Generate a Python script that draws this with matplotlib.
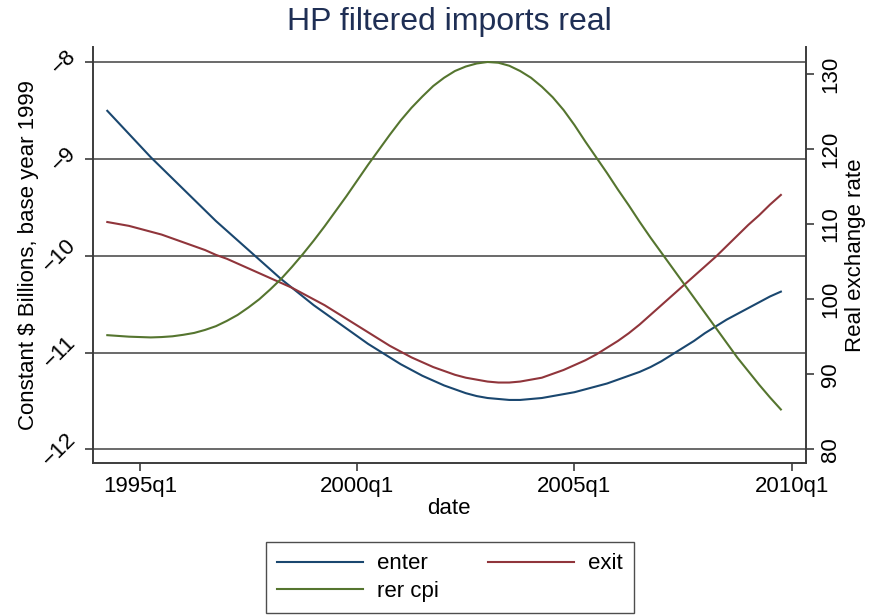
"""HP filtered imports real: enter/exit (left axis) against the real exchange rate (right axis)."""

import matplotlib

matplotlib.use("Agg")
import matplotlib.pyplot as plt  # noqa: E402
import numpy as np  # noqa: E402
import pandas as pd  # noqa: E402

plt.rcParams["font.family"] = ["Liberation Sans", "DejaVu Sans"]

# quarterly dates, 1994q2 .. 2009q4
dates = pd.period_range("1994Q2", "2009Q4", freq="Q")

enter = [
    -8.50, -8.62, -8.74, -8.86, -8.98, -9.09, -9.20, -9.31, -9.42, -9.53,
    -9.64, -9.74, -9.84, -9.94, -10.04, -10.14, -10.24, -10.33, -10.42, -10.51,
    -10.59, -10.67, -10.75, -10.83, -10.91, -10.98, -11.05, -11.12, -11.18, -11.24,
    -11.29, -11.34, -11.38, -11.42, -11.45, -11.47, -11.48, -11.49, -11.49, -11.48,
    -11.47, -11.45, -11.43, -11.41, -11.38, -11.35, -11.32, -11.28, -11.24, -11.20,
    -11.15, -11.09, -11.02, -10.95, -10.88, -10.80, -10.73, -10.66, -10.60, -10.54,
    -10.48, -10.42, -10.37,
]
exit_ = [
    -9.65, -9.67, -9.69, -9.72, -9.75, -9.78, -9.82, -9.86, -9.90, -9.94,
    -9.99, -10.03, -10.08, -10.13, -10.18, -10.23, -10.28, -10.33, -10.39, -10.45,
    -10.51, -10.58, -10.65, -10.72, -10.79, -10.86, -10.93, -10.99, -11.05, -11.10,
    -11.15, -11.19, -11.23, -11.26, -11.28, -11.30, -11.31, -11.31, -11.30, -11.28,
    -11.26, -11.22, -11.18, -11.13, -11.08, -11.02, -10.95, -10.88, -10.80, -10.71,
    -10.61, -10.51, -10.41, -10.31, -10.21, -10.11, -10.01, -9.90, -9.79, -9.68,
    -9.58, -9.47, -9.37,
]
rer_cpi = [
    95.2, 95.1, 95.0, 94.95, 94.9, 94.95, 95.05, 95.25, 95.5, 95.9,
    96.4, 97.1, 97.9, 98.9, 100.0, 101.3, 102.7, 104.3, 106.0, 107.8,
    109.7, 111.7, 113.7, 115.8, 117.9, 119.9, 121.9, 123.8, 125.5, 127.0,
    128.4, 129.5, 130.4, 131.0, 131.4, 131.6, 131.5, 131.1, 130.4, 129.5,
    128.3, 126.9, 125.2, 123.2, 121.0, 118.9, 116.8, 114.6, 112.5, 110.3,
    108.2, 106.2, 104.2, 102.2, 100.2, 98.2, 96.2, 94.2, 92.2, 90.4,
    88.6, 86.9, 85.3,
]

left_ticks = [-8, -9, -10, -11, -12]
right_ticks = [80, 90, 100, 110, 120, 130]
x_tick_labels = ["1995q1", "2000q1", "2005q1", "2010q1"]

NAVY, MAROON, GREEN = "#1a476f", "#90353b", "#55752f"
AXIS_GREY = "#3c3c3c"
GRID_GREY = "#5e5e5e"
FS = 16


def tq(p):
    """Stata-style quarterly date number (1960q1 = 0)."""
    p = pd.Period(p, freq="Q")
    return (p.year - 1960) * 4 + p.quarter - 1


x = np.array([tq(d) for d in dates])
x_ticks = [tq(s.upper()) for s in x_tick_labels]

fig = plt.figure(figsize=(8.7, 6.15), dpi=100)
ax = fig.add_axes([0.1066, 0.2467, 0.8198, 0.6769])
ax2 = ax.twinx()

ax.set_xlim(135.66, 201.31)
ax.set_ylim(-12.145, -7.84)
ax2.set_ylim(78.13, 133.6)

# horizontal grid on the left-axis ticks
for v in left_ticks:
    ax.axhline(v, color=GRID_GREY, lw=1.3, zorder=1)

l1, = ax.plot(x, enter, color=NAVY, lw=1.5, zorder=3, label="enter")
l2, = ax.plot(x, exit_, color=MAROON, lw=1.5, zorder=3, label="exit")
l3, = ax2.plot(x, rer_cpi, color=GREEN, lw=1.5, zorder=3, label="rer cpi")

for a in (ax, ax2):
    a.spines["top"].set_visible(False)
    for s in ("left", "right", "bottom"):
        a.spines[s].set_color(AXIS_GREY)
        a.spines[s].set_linewidth(1.4)
ax.spines["right"].set_visible(False)
ax2.spines["left"].set_visible(False)
ax2.spines["bottom"].set_visible(False)

ax.set_xticks(x_ticks)
ax.set_xticklabels(x_tick_labels, fontsize=FS)
ax.set_yticks(left_ticks)
ax.set_yticklabels([f"\u2212{abs(v)}" for v in left_ticks], fontsize=FS,
                   rotation=45, ha="right", va="center")
ax2.set_yticks(right_ticks)
ax2.set_yticklabels([str(v) for v in right_ticks], fontsize=FS,
                    rotation=90, va="center")
ax.tick_params(axis="both", direction="out", length=6, width=1.2,
               color=AXIS_GREY, pad=3)
ax2.tick_params(axis="y", direction="out", length=6, width=1.2,
                color=AXIS_GREY, pad=4)

ax.set_xlabel("date", fontsize=FS, labelpad=1)
ax.set_ylabel("Constant $ Billions, base year 1999", fontsize=FS, labelpad=0)
ax2.set_ylabel("Real exchange rate", fontsize=FS, labelpad=3)
ax.set_title("HP filtered imports real", fontsize=23, color="#1f2f55", pad=12)

# legend is filled column-wise: order so rows read "enter exit / rer cpi"
leg = fig.legend(
    handles=[l1, l3, l2], labels=["enter", "rer cpi", "exit"],
    ncol=2, loc="lower center", bbox_to_anchor=(450 / 870, 0.003),
    fontsize=FS, frameon=True, fancybox=False, edgecolor="#222222",
    handlelength=3.85, handletextpad=0.65, columnspacing=2.2,
    borderpad=0.5, labelspacing=0.3, borderaxespad=0.0,
)
leg.get_frame().set_linewidth(1.0)

fig.savefig("out.png", dpi=100)
